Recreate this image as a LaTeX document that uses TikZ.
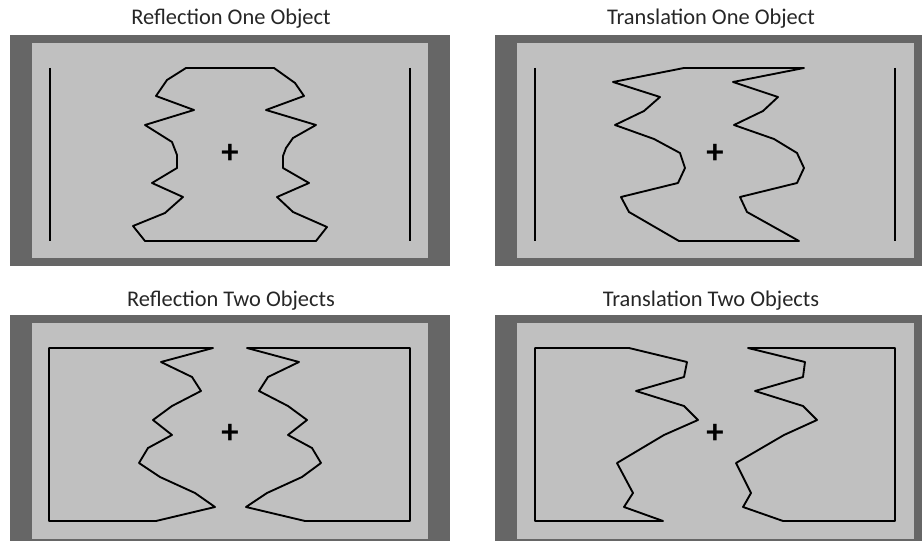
\documentclass[tikz,border=0pt]{standalone}
\usepackage{fontspec}
\setmainfont{Carlito}
\definecolor{bezelgray}{RGB}{102,102,102}
\definecolor{displaygray}{RGB}{192,192,192}
\tikzset{
  bezel/.style={fill=bezelgray},
  display/.style={fill=displaygray},
  outline/.style={draw=black, line width=1.4pt, line join=round},
  caption/.style={font=\fontsize{16.8}{18}\selectfont, anchor=base, text=black!85},
  fixation/.style={font=\fontsize{26}{26}\selectfont\bfseries, inner sep=0pt}
}
\begin{document}
\begin{tikzpicture}[x=0.75pt,y=-0.75pt]
  \useasboundingbox (0,0) rectangle (922,541);
  \clip (0,0) rectangle (922,541);
  % screens
  \fill[bezel] (10,35) rectangle (450,266);
  \fill[display] (32,43) rectangle (428,258);
  \fill[bezel] (495,35) rectangle (936,266);
  \fill[display] (517,43) rectangle (914,258);
  \fill[bezel] (10,315) rectangle (450,547);
  \fill[display] (32,323) rectangle (428,539);
  \fill[bezel] (495,315) rectangle (936,547);
  \fill[display] (517,323) rectangle (914,539);
  % titles
  \node[caption] (t1) at (231,25) {Reflection One Object};
  \node[caption] (t2) at (711,25) {Translation One Object};
  \node[caption] (t3) at (231,307) {Reflection Two Objects};
  \node[caption] (t4) at (711,307) {Translation Two Objects};
  % fixation crosses
  \node[fixation] (f1) at (230,154) {+};
  \node[fixation] (f2) at (715,154) {+};
  \node[fixation] (f3) at (230,434) {+};
  \node[fixation] (f4) at (715,434) {+};
  % reflection, one object
  \draw[outline] (50,68) -- (50,241);
  \draw[outline] (410,68) -- (410,241);
  \draw[outline] (186,68) -- (274,68) -- (295,83) -- (304,96) -- (266,110)
    -- (316,125) -- (293,138) -- (286,148) -- (283,156) -- (283,168)
    -- (309,183) -- (277,197) -- (293,212) -- (327,227) -- (316,241)
    -- (145,241) -- (133,226) -- (165,213) -- (183,197) -- (152,183)
    -- (177,168) -- (177,155) -- (172,142) -- (145,125) -- (194,110)
    -- (156,96) -- (167,80) -- cycle;
  % translation, one object
  \draw[outline] (535,68) -- (535,241);
  \draw[outline] (895,68) -- (895,241);
  \draw[outline] (684,68) -- (804,68) -- (733,82) -- (778,97) -- (763,111)
    -- (734,125) -- (774,139) -- (797,153) -- (804,168) -- (797,183)
    -- (740,197) -- (747,212) -- (799,241) -- (679,241) -- (629,212)
    -- (621,197) -- (678,183) -- (685,168) -- (680,153) -- (654,139)
    -- (615,125) -- (644,111) -- (660,97) -- (613,82) -- cycle;
  % reflection, two objects
  \draw[outline] (49,348) -- (213,348) -- (161,362) -- (192,377) -- (201,391)
    -- (172,406) -- (153,420) -- (172,435) -- (148,448) -- (139,463)
    -- (160,477) -- (195,493) -- (215,507) -- (156,521) -- (49,521) -- cycle;
  \draw[outline] (247,348) -- (410,348) -- (410,521) -- (305,521) -- (246,507)
    -- (267,493) -- (302,477) -- (321,463) -- (312,448) -- (288,435)
    -- (307,420) -- (288,406) -- (259,391) -- (268,377) -- (299,362) -- cycle;
  % translation, two objects
  \draw[outline] (535,348) -- (629,348) -- (687,362) -- (684,377) -- (636,391)
    -- (684,406) -- (698,420) -- (664,435) -- (617,463) -- (633,493)
    -- (624,507) -- (663,521) -- (535,521) -- cycle;
  \draw[outline] (748,348) -- (895,348) -- (895,521) -- (783,521) -- (743,507)
    -- (751,493) -- (736,463) -- (784,435) -- (817,420) -- (803,406)
    -- (755,391) -- (803,377) -- (805,362) -- cycle;
\end{tikzpicture}
\end{document}
